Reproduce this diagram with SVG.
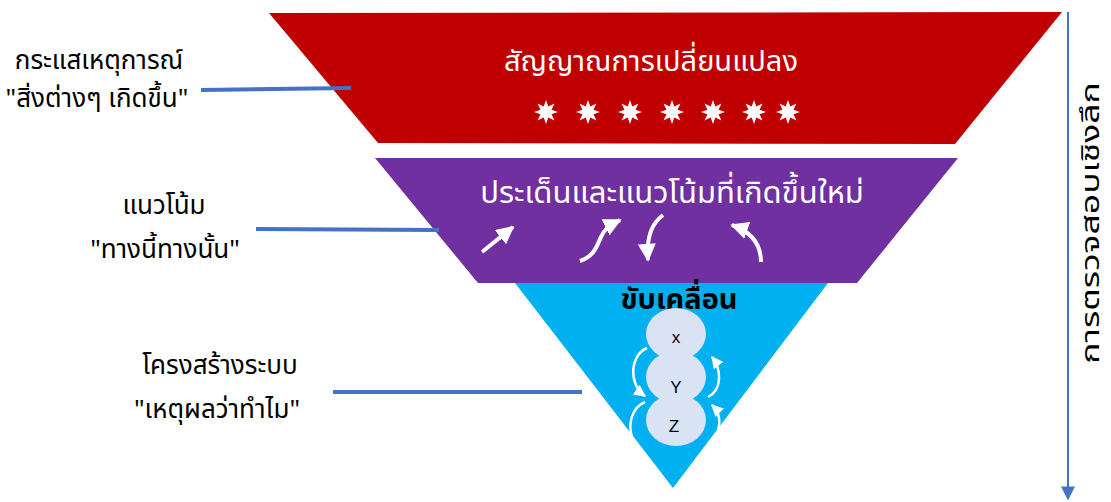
<svg xmlns="http://www.w3.org/2000/svg" width="1111" height="502" viewBox="0 0 1111 502">
<style>
.lbl{font-family:"Noto Sans Thai","Noto Sans",sans-serif;font-size:26px;fill:#000;text-anchor:middle}
.wt{font-family:"Noto Sans Thai","Noto Sans",sans-serif;fill:#fff;text-anchor:middle}
.lead{stroke:#4472C4;stroke-width:4;fill:none}
.warr{stroke:#fff;stroke-width:4;fill:none}
.carr{stroke:#fff;stroke-width:2.5;fill:none}
.circ{fill:#DAE3F3}
.ct{font-family:"Liberation Sans",Arial,sans-serif;font-size:17px;fill:#000;text-anchor:middle}
</style>
<defs>
<marker id="wh" viewBox="0 0 10 10" refX="9" refY="5" markerWidth="18" markerHeight="18" markerUnits="userSpaceOnUse" orient="auto"><path d="M0,0 L10,5 L0,10 z" fill="#fff"/></marker>
<marker id="wh2" viewBox="0 0 10 10" refX="9" refY="5" markerWidth="12" markerHeight="12" markerUnits="userSpaceOnUse" orient="auto"><path d="M0,0 L10,5 L0,10 z" fill="#fff"/></marker>
<marker id="bh" viewBox="0 0 10 10" refX="9" refY="5" markerWidth="14" markerHeight="14" markerUnits="userSpaceOnUse" orient="auto"><path d="M0,0 L10,5 L0,10 z" fill="#4472C4"/></marker>
<path id="star" d="M0,-12 L2.3,-5.54 L8.49,-8.49 L5.54,-2.3 L12,0 L5.54,2.3 L8.49,8.49 L2.3,5.54 L0,12 L-2.3,5.54 L-8.49,8.49 L-5.54,2.3 L-12,0 L-5.54,-2.3 L-8.49,-8.49 L-2.3,-5.54 z" fill="#fff"/>
</defs>
<rect width="1111" height="502" fill="#fff"/>
<g id="level3">
<polygon points="515,283 828,283 673,488" fill="#00B0F0"/>
</g>
<g id="level1">
<polygon points="269,13 1062,12 955,144 378,143" fill="#C00000"/>
<text class="wt" x="651" y="71" font-size="29">สัญญาณการเปลี่ยนแปลง</text>
<use href="#star" x="546" y="112"/>
<use href="#star" x="588" y="112"/>
<use href="#star" x="630" y="112"/>
<use href="#star" x="672" y="112"/>
<use href="#star" x="713" y="112"/>
<use href="#star" x="754" y="112"/>
<use href="#star" x="788" y="112"/>
</g>
<g id="level2">
<polygon points="375,158 958,158 857,283 478,283" fill="#7030A0"/>
<text class="wt" x="672" y="203" font-size="31">ประเด็นและแนวโน้มที่เกิดขึ้นใหม่</text>
<path class="warr" d="M482,252 L513,227" marker-end="url(#wh)"/>
<path class="warr" d="M580,261 C595,256 597,245 601,237 C604,230 608,226 620,220" marker-end="url(#wh)"/>
<path class="warr" d="M663,215 C654,222 646,233 648,260" marker-end="url(#wh)"/>
<path class="warr" d="M761,262 C761,245 752,232 732,225" marker-end="url(#wh)"/>
</g>
<g id="drivers">
<text x="679" y="309" font-family="'Noto Sans Thai','Noto Sans',sans-serif" font-size="29" font-weight="bold" text-anchor="middle" fill="#000">ขับเคลื่อน</text>
<ellipse class="circ" cx="676" cy="420" rx="30" ry="26"/>
<ellipse class="circ" cx="676" cy="377" rx="30" ry="26"/>
<ellipse class="circ" cx="676" cy="334" rx="30" ry="26"/>
<text class="ct" x="676" y="343">x</text>
<text class="ct" x="676" y="393">Y</text>
<text class="ct" x="674" y="432">Z</text>
<path class="carr" d="M647,348 C630,355 628,384 645,396" marker-end="url(#wh2)"/>
<path class="carr" d="M645,402 C631,408 628,425 632,437"/>
<path class="carr" d="M708,397 C722,390 722,370 712,357" marker-end="url(#wh2)"/>
<path class="carr" d="M718,430 C721,420 719,412 712,405" marker-end="url(#wh2)"/>
</g>
<g id="label1">
<text class="lbl" x="99" y="69">กระแสเหตุการณ์</text>
<text class="lbl" x="97" y="107">"สิ่งต่างๆ เกิดขึ้น"</text>
</g>
<g id="label2">
<text class="lbl" x="164" y="214">แนวโน้ม</text>
<text class="lbl" x="165" y="258">"ทางนี้ทางนั้น"</text>
</g>
<g id="label3">
<text class="lbl" x="220" y="374">โครงสร้างระบบ</text>
<text class="lbl" x="217" y="418">"เหตุผลว่าทำไม"</text>
</g>
<g id="depth">
<text transform="translate(1099 223) rotate(-90) scale(1.42 1)" x="0" y="0" font-family="'Noto Sans Thai','Noto Sans',sans-serif" font-size="25" text-anchor="middle" fill="#000">การตรวจสอบเชิงลึก</text>
</g>
<g id="connectors">
<path class="lead" d="M201,90 L351,88"/>
<path class="lead" d="M256,229 L439,230"/>
<path class="lead" d="M333,392 L582,392"/>
<path d="M1068,12 L1068,499" stroke="#4472C4" stroke-width="2" fill="none" marker-end="url(#bh)"/>
</g>
</svg>
